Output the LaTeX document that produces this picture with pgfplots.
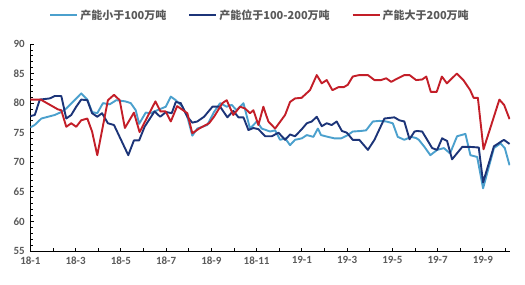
\documentclass[border=0pt]{standalone}
\usepackage{pgfplots}
\pgfplotsset{compat=1.18}
\usepackage{fontspec}
\setmainfont{Carlito}
\newfontfamily\cjk{Noto Sans CJK SC}
\definecolor{lightb}{RGB}{75,160,205}
\definecolor{navyb}{RGB}{28,52,120}
\definecolor{redb}{RGB}{195,30,40}
\definecolor{txt}{RGB}{89,89,89}
\begin{document}
\begin{tikzpicture}
\path[use as bounding box] (-30.3pt,-33pt) rectangle (494.7pt,251pt);
\begin{axis}[
  scale only axis, width=479.7pt, height=207pt,
  xmin=0, xmax=21.2, ymin=55, ymax=90,
  axis lines*=left,
  axis line style={black, line width=0.9pt},
  xtick={0,2,...,20},
  xticklabels={18-1,18-3,18-5,18-7,18-9,18-11,19-1,19-3,19-5,19-7,19-9},
  minor xtick={1,3,...,21},
  ytick={55,60,...,90},
  minor ytick={56,57,58,59,61,62,63,64,66,67,68,69,71,72,73,74,76,77,78,79,81,82,83,84,86,87,88,89},
  tick align=inside,
  major tick length=3.5pt, minor tick length=3pt,
  tick style={black, line width=0.8pt},
  /pgf/number format/assume math mode=true,
  ticklabel style={font=\fontsize{11}{13}\selectfont\bfseries, text=txt},
  xticklabel style={yshift=-2pt},
  yticklabel style={xshift=-2pt},
  legend columns=3,
  legend style={draw=none, fill=none, at={(0.479,1.14)}, anchor=center,
    font=\fontsize{11}{13}\selectfont\cjk\bfseries, text=txt,
    /tikz/every even column/.append style={column sep=20pt}},
  legend image code/.code={\draw[#1] (0pt,0pt) -- (27pt,0pt);},
  every axis plot/.append style={line width=1.9pt, line join=round, mark=none},
]
\addplot[lightb] coordinates {
(0,75.9) (0.19,76.3) (0.49,77.4) (1.08,78.0) (1.37,78.5) (1.59,79.1) (1.96,80.5) (2.25,81.65) (2.52,80.6) (2.73,78.5) (2.96,78.3) (3.21,80.0) (3.51,79.8) (3.80,80.5) (4.2,80.3) (4.44,80.0) (4.66,78.8) (4.81,76.5) (5.10,78.4) (5.32,78.3) (5.61,78.8) (5.99,79.4) (6.21,81.1) (6.43,80.5) (6.72,79.4) (6.94,77.7) (7.16,74.5) (7.38,75.7) (7.82,76.3) (8.12,78.5) (8.39,80.0) (8.68,79.4) (8.90,79.7) (9.12,78.8) (9.42,80.0) (9.71,75.7) (10.01,76.9) (10.23,75.7) (10.60,75.2) (10.82,75.4) (11.04,73.8) (11.26,74.05) (11.48,72.9) (11.70,73.8) (12.00,74.05) (12.22,74.6) (12.51,74.3) (12.71,75.7) (12.85,74.6) (13.15,74.3) (13.44,74.05) (13.74,74.05) (14.03,74.6) (14.25,75.2) (14.62,75.3) (14.84,75.4) (15.14,76.9) (15.43,77.0) (15.73,76.9) (16.02,76.6) (16.24,74.3) (16.53,73.8) (16.83,74.3) (17.05,74.1) (17.17,73.8) (17.42,72.6) (17.68,71.2) (17.98,72.1) (18.28,72.4) (18.55,71.5) (18.86,74.4) (19.23,74.8) (19.45,71.2) (19.75,70.9) (20.01,65.6) (20.49,72.4) (20.78,73.2) (20.97,72.4) (21.18,69.5)
};
\addlegendentry{产能小于100万吨}
\addplot[navyb] coordinates {
(0,77.8) (0.2,78.0) (0.42,80.6) (0.86,80.8) (1.08,81.2) (1.37,81.2) (1.59,77.4) (1.81,78.0) (2.03,79.4) (2.25,80.6) (2.52,80.5) (2.73,78.3) (2.96,77.7) (3.17,78.3) (3.43,76.6) (3.70,76.3) (4.33,71.2) (4.58,73.7) (4.81,73.7) (5.05,76.0) (5.49,78.6) (5.74,77.7) (6.0,78.5) (6.25,78.3) (6.43,80.2) (6.65,80.0) (6.94,77.7) (7.16,76.7) (7.38,76.9) (7.68,77.7) (8.05,79.4) (8.39,79.4) (8.71,77.6) (8.97,78.7) (9.20,77.6) (9.42,77.6) (9.64,75.45) (9.86,75.8) (10.08,75.6) (10.38,74.4) (10.67,74.4) (10.97,75.0) (11.26,73.8) (11.48,74.7) (11.70,74.4) (12.0,75.6) (12.22,76.6) (12.44,76.9) (12.66,77.7) (12.88,76.1) (13.10,76.6) (13.32,76.3) (13.54,76.9) (13.77,75.3) (13.99,75.0) (14.25,73.8) (14.54,73.8) (14.92,72.1) (15.21,73.8) (15.65,77.4) (16.09,77.6) (16.31,77.1) (16.53,76.9) (16.76,73.9) (16.98,75.2) (17.10,75.3) (17.32,75.2) (17.54,73.8) (17.76,72.4) (17.98,72.1) (18.20,74.05) (18.42,73.6) (18.64,70.5) (19.09,72.6) (19.45,72.6) (19.82,72.5) (20.01,66.6) (20.49,72.7) (20.93,73.8) (21.18,73.1)
};
\addlegendentry{产能位于100-200万吨}
\addplot[redb] coordinates {
(0,80.6) (0.46,80.6) (1.22,78.95) (1.37,78.8) (1.59,76.0) (1.81,76.6) (2.03,76.0) (2.25,77.1) (2.52,77.4) (2.73,75.2) (2.96,71.2) (3.43,80.5) (3.70,81.4) (3.95,80.5) (4.18,75.8) (4.58,78.4) (4.83,75.1) (5.53,80.3) (5.75,78.6) (5.98,78.6) (6.21,76.9) (6.49,79.5) (6.94,78.3) (7.16,74.9) (7.46,75.7) (7.90,76.6) (8.12,77.7) (8.49,80.0) (8.68,80.5) (8.97,78.0) (9.27,79.4) (9.49,79.1) (9.71,78.3) (9.86,78.8) (10.08,76.3) (10.30,79.4) (10.52,76.9) (10.82,75.7) (11.26,78.0) (11.48,80.2) (11.70,80.8) (11.99,80.9) (12.36,82.2) (12.66,84.75) (12.88,83.35) (13.10,83.9) (13.35,82.2) (13.62,82.7) (13.85,82.7) (14.03,83.1) (14.25,84.5) (14.54,84.75) (14.92,84.75) (15.21,83.9) (15.50,83.9) (15.73,84.2) (15.95,83.6) (16.24,84.2) (16.53,84.75) (16.76,84.75) (17.05,83.9) (17.32,84.0) (17.50,84.5) (17.70,81.9) (17.96,81.9) (18.19,84.5) (18.41,83.35) (18.85,85.0) (19.14,83.9) (19.44,82.2) (19.59,80.9) (19.78,80.9) (20.03,72.2) (20.73,80.6) (20.94,79.7) (21.18,77.3)
};
\addlegendentry{产能大于200万吨}
\end{axis}
\end{tikzpicture}
\end{document}
